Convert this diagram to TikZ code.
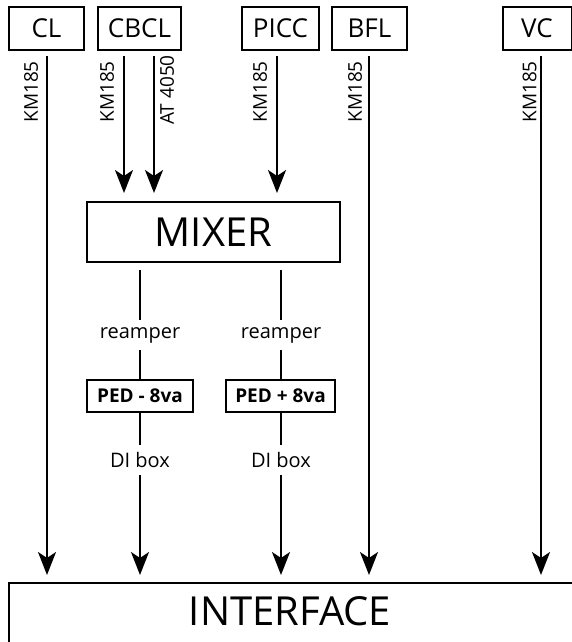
\documentclass[tikz,border=0pt]{standalone}
\usepackage{fontspec}
\setmainfont{Open Sans}
\usetikzlibrary{arrows.meta}
\begin{document}
\begin{tikzpicture}[x=1pt,y=-1pt,
  box/.style={draw, line width=2pt, inner sep=0pt, font=\fontsize{26}{30}\selectfont, minimum height=43pt},
  big/.style={draw, line width=2pt, inner sep=0pt, font=\fontsize{40}{46}\selectfont},
  lbl/.style={rotate=90, inner sep=0pt, anchor=east, font=\fontsize{19}{22}\selectfont},
  mid/.style={inner sep=0pt, minimum height=30pt, font=\fontsize{20}{24}\selectfont},
  ped/.style={draw, line width=2pt, inner sep=0pt, minimum height=32pt, font=\fontsize{19}{22}\selectfont\bfseries},
  arr/.style={line width=2pt, -{Stealth[length=23pt, width=18pt, inset=6pt]}},
  ln/.style={line width=2pt}
]
\useasboundingbox (0,0) rectangle (572,642);
\clip (0,0) rectangle (572,642);
% source boxes
\node[box, minimum width=75pt] (CL) at (46.5,28.5) {CL};
\node[box, minimum width=83pt] (CBCL) at (139.5,28.5) {CBCL};
\node[box, minimum width=77pt] (PICC) at (280.5,28.5) {PICC};
\node[box, minimum width=75pt] (BFL) at (369.5,28.5) {BFL};
\node[box, minimum width=69pt] (VC) at (537,28.5) {VC};
% line x positions
\coordinate (xcl) at (47,0);
\coordinate (xcb1) at (124,0);
\coordinate (xcb2) at (154,0);
\coordinate (xpi) at (277,0);
\coordinate (xbf) at (369,0);
\coordinate (xvc) at (541,0);
\coordinate (xl) at (140,0);
\coordinate (xr) at (281,0);
% mixer and interface
\node[big, minimum width=253pt, minimum height=60pt] (mixer) at (213.5,232) {MIXER};
\node[draw, line width=2pt, minimum width=620pt, minimum height=120pt, anchor=north west] (iface) at (8,582) {};
\node[inner sep=0pt, font=\fontsize{40}{46}\selectfont] (ifacetext) at (290,611) {INTERFACE};
% cable labels
\node[lbl] (lcl) at (31,61) {KM185};
\node[lbl] (lcb1) at (107,61) {KM185};
\node[lbl] (lcb2) at (167,55) {AT 4050};
\node[lbl] (lpi) at (260,61) {KM185};
\node[lbl] (lbf) at (355,61) {KM185};
\node[lbl] (lvc) at (529.5,61) {KM185};
% middle chain
\node[mid] (r1) at (140,335) {reamper};
\node[mid] (r2) at (281,335) {reamper};
\node[ped, minimum width=106pt] (p1) at (140,396) {PED - 8va};
\node[ped, minimum width=109pt] (p2) at (280.5,396) {PED + 8va};
\node[mid] (d1) at (140,460) {DI box};
\node[mid] (d2) at (281,460) {DI box};
% connectors
\draw[arr, shorten <=5pt, shorten >=7pt] (xcl |- CL.south) -- (xcl |- iface.north);
\draw[arr, shorten <=5pt, shorten >=8pt] (xcb1 |- CBCL.south) -- (xcb1 |- mixer.north);
\draw[arr, shorten <=5pt, shorten >=8pt] (xcb2 |- CBCL.south) -- (xcb2 |- mixer.north);
\draw[arr, shorten <=5pt, shorten >=8pt] (xpi |- PICC.south) -- (xpi |- mixer.north);
\draw[arr, shorten <=5pt, shorten >=7pt] (xbf |- BFL.south) -- (xbf |- iface.north);
\draw[arr, shorten <=5pt, shorten >=7pt] (xvc |- VC.south) -- (xvc |- iface.north);
\draw[ln, shorten <=7pt] (xl |- mixer.south) -- (r1);
\draw[ln] (r1) -- (p1);
\draw[ln] (p1) -- (d1);
\draw[arr, shorten >=7pt] (d1) -- (xl |- iface.north);
\draw[ln, shorten <=7pt] (xr |- mixer.south) -- (r2);
\draw[ln] (r2) -- (xr |- p2.north);
\draw[ln] (xr |- p2.south) -- (d2);
\draw[arr, shorten >=7pt] (d2) -- (xr |- iface.north);
\end{tikzpicture}
\end{document}
